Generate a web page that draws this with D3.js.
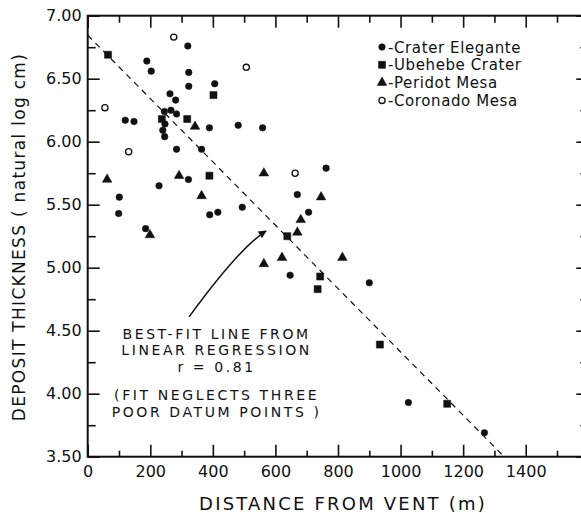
<!DOCTYPE html>
<html>
<head>
<meta charset="utf-8">
<script src="https://cdn.jsdelivr.net/npm/d3@7"></script>
<style>
  body { margin: 0; background: #fff; }
  svg text { font-family: "DejaVu Sans", sans-serif; fill: #111; }
</style>
</head>
<body>
<div id="chart"></div>
<script>
// ----------------------------
// DATA (distance m, ln thickness cm)
// ----------------------------
const craterElegante = [
  [320, 6.76], [189, 6.64], [203, 6.56], [323, 6.55], [323, 6.44], [406, 6.46],
  [263, 6.38], [281, 6.33], [245, 6.24], [266, 6.25], [284, 6.22], [120, 6.17],
  [148, 6.16], [247, 6.14], [240, 6.09], [246, 6.04], [389, 6.11], [481, 6.13],
  [559, 6.11], [284, 5.94], [364, 5.94], [101, 5.56], [99, 5.43], [228, 5.65],
  [322, 5.70], [390, 5.42], [416, 5.44], [494, 5.48], [185, 5.31], [762, 5.79],
  [670, 5.58], [706, 5.44], [647, 4.94], [900, 4.88], [1025, 3.93], [1268, 3.69]
];
const ubehebeCrater = [
  [65, 6.69], [402, 6.37], [237, 6.18], [318, 6.18], [389, 5.73], [638, 5.25],
  [743, 4.93], [735, 4.83], [934, 4.39], [1149, 3.92]
];
const peridotMesa = [
  [343, 6.12], [62, 5.70], [292, 5.73], [364, 5.57], [199, 5.26], [563, 5.75],
  [746, 5.56], [681, 5.38], [670, 5.28], [563, 5.03], [621, 5.08], [814, 5.08]
];
const coronadoMesa = [
  [275, 6.83], [507, 6.59], [55, 6.27], [131, 5.92], [663, 5.75]
];

// best-fit line end points
const fitLine = [[0, 6.845], [1331, 3.5]];

// arrow: tail, control, tip
const arrowPts = [[324, 4.61], [487, 5.164], [570, 5.291]];

const xMajor = [0, 200, 400, 600, 800, 1000, 1200, 1400];
const xMinor = [100, 300, 500, 700, 900, 1100, 1300, 1500];
const yMajor = [3.5, 4.0, 4.5, 5.0, 5.5, 6.0, 6.5, 7.0];
const yMinor = [3.75, 4.25, 4.75, 5.25, 5.75, 6.25, 6.75];

const legendNames = ["Crater Elegante", "Ubehebe Crater", "Peridot Mesa", "Coronado Mesa"];
const noteLines = ["BEST-FIT LINE FROM", "LINEAR REGRESSION", "r = 0.81", "(FIT NEGLECTS THREE", "POOR DATUM POINTS )"];

// ----------------------------
// SETUP
// ----------------------------
const width = 581;
const height = 513;

const svg = d3.select("#chart")
  .append("svg")
  .attr("width", width)
  .attr("height", height);

const x = d3.scaleLinear().domain([0, 1600]).range([87.7, 588.3]);
const y = d3.scaleLinear().domain([3.5, 7]).range([456.7, 15.7]);

// ----------------------------
// AXES (ticks point inward)
// ----------------------------
function styleAxis(sel, fontSize) {
  sel.select(".domain").remove();
  sel.selectAll("line").attr("stroke", "#111").attr("stroke-width", 1.6);
  sel.selectAll("text")
    .attr("font-family", "DejaVu Sans, sans-serif")
    .attr("font-size", fontSize)
    .attr("fill", "#111");
}

svg.append("g")
  .attr("transform", `translate(0,${y(3.5)})`)
  .call(d3.axisBottom(x).tickValues(xMajor).tickSizeInner(-12).tickSizeOuter(0)
    .tickPadding(8.6).tickFormat(d3.format("d")))
  .call(s => styleAxis(s, 16));

svg.append("g")
  .attr("transform", `translate(0,${y(3.5)})`)
  .call(d3.axisBottom(x).tickValues(xMinor).tickSizeInner(-6).tickSizeOuter(0).tickFormat(""))
  .call(s => styleAxis(s, 16));

svg.append("g")
  .attr("transform", `translate(0,${y(7)})`)
  .call(d3.axisTop(x).tickValues(xMajor).tickSizeInner(-12).tickSizeOuter(0).tickFormat(""))
  .call(s => styleAxis(s, 16));

svg.append("g")
  .attr("transform", `translate(0,${y(7)})`)
  .call(d3.axisTop(x).tickValues(xMinor).tickSizeInner(-7).tickSizeOuter(0).tickFormat(""))
  .call(s => styleAxis(s, 16));

svg.append("g")
  .attr("transform", `translate(${x(0)},0)`)
  .call(d3.axisLeft(y).tickValues(yMajor).tickSizeInner(-12).tickSizeOuter(0)
    .tickPadding(6).tickFormat(d3.format(".2f")))
  .call(s => styleAxis(s, 16));

svg.append("g")
  .attr("transform", `translate(${x(0)},0)`)
  .call(d3.axisLeft(y).tickValues(yMinor).tickSizeInner(-8).tickSizeOuter(0).tickFormat(""))
  .call(s => styleAxis(s, 16));

svg.append("g")
  .attr("transform", `translate(${x(1600)},0)`)
  .call(d3.axisRight(y).tickValues(yMajor).tickSizeInner(-12).tickSizeOuter(0).tickFormat(""))
  .call(s => styleAxis(s, 16));

svg.append("g")
  .attr("transform", `translate(${x(1600)},0)`)
  .call(d3.axisRight(y).tickValues(yMinor).tickSizeInner(-8).tickSizeOuter(0).tickFormat(""))
  .call(s => styleAxis(s, 16));

// frame
svg.append("rect")
  .attr("x", x(0))
  .attr("y", y(7))
  .attr("width", x(1600) - x(0))
  .attr("height", y(3.5) - y(7))
  .attr("fill", "none")
  .attr("stroke", "#111")
  .attr("stroke-width", 2);

// ----------------------------
// AXIS TITLES
// ----------------------------
svg.append("text")
  .attr("x", 343)
  .attr("y", 510)
  .attr("text-anchor", "middle")
  .attr("font-size", "18px")
  .attr("letter-spacing", "2.2px")
  .text("DISTANCE FROM VENT (m)");

svg.append("text")
  .attr("transform", "translate(25,237) rotate(-90)")
  .attr("text-anchor", "middle")
  .attr("font-size", "17px")
  .attr("letter-spacing", "1.3px")
  .text("DEPOSIT THICKNESS ( natural log cm)");

// ----------------------------
// FIT LINE
// ----------------------------
svg.append("path")
  .datum(fitLine)
  .attr("fill", "none")
  .attr("stroke", "#111")
  .attr("stroke-width", 1.2)
  .attr("stroke-dasharray", "6,5")
  .attr("d", d3.line().x(d => x(d[0])).y(d => y(d[1])));

// ----------------------------
// POINTS
// ----------------------------
const sym = {
  circle: d3.symbol().type(d3.symbolCircle).size(34),
  square: d3.symbol().type(d3.symbolSquare).size(50),
  triangle: d3.symbol().type(d3.symbolTriangle).size(40),
  open: d3.symbol().type(d3.symbolCircle).size(30)
};

const series = [
  { name: legendNames[0], data: craterElegante, shape: "circle", fill: "#111" },
  { name: legendNames[1], data: ubehebeCrater, shape: "square", fill: "#111" },
  { name: legendNames[2], data: peridotMesa, shape: "triangle", fill: "#111" },
  { name: legendNames[3], data: coronadoMesa, shape: "open", fill: "#fff" }
];

series.forEach(s => {
  svg.append("g")
    .selectAll("path")
    .data(s.data)
    .join("path")
    .attr("transform", d => `translate(${x(d[0])},${y(d[1])})`)
    .attr("d", sym[s.shape]())
    .attr("fill", s.fill)
    .attr("stroke", "#111")
    .attr("stroke-width", s.shape === "open" ? 1.3 : 0.5);
});

// ----------------------------
// LEGEND
// ----------------------------
const legend = svg.append("g").attr("transform", "translate(382,47)");

const legendItems = legend.selectAll(".legend-item")
  .data(series)
  .join("g")
  .attr("class", "legend-item")
  .attr("transform", (_, i) => `translate(0,${i * 17.8})`);

legendItems.append("path")
  .attr("d", d => sym[d.shape]())
  .attr("fill", d => d.fill)
  .attr("stroke", "#111")
  .attr("stroke-width", d => d.shape === "open" ? 1.3 : 0.5);

legendItems.append("text")
  .attr("x", 6)
  .attr("y", 5.5)
  .attr("font-size", "15px")
  .attr("letter-spacing", "0.6px")
  .text(d => "-" + d.name);

// ----------------------------
// ANNOTATION
// ----------------------------
svg.append("defs").append("marker")
  .attr("id", "head")
  .attr("viewBox", "0 0 10 10")
  .attr("refX", 9)
  .attr("refY", 5)
  .attr("markerWidth", 10)
  .attr("markerHeight", 8)
  .attr("markerUnits", "userSpaceOnUse")
  .attr("orient", "auto")
  .append("path")
  .attr("d", "M0,0L10,5L0,10Z")
  .attr("fill", "#111");

const [a0, a1, a2] = arrowPts;
svg.append("path")
  .attr("d", `M${x(a0[0])},${y(a0[1])}Q${x(a1[0])},${y(a1[1])} ${x(a2[0])},${y(a2[1])}`)
  .attr("fill", "none")
  .attr("stroke", "#111")
  .attr("stroke-width", 1.5)
  .attr("marker-end", "url(#head)");

// line baselines below the first one (px)
const noteOffsets = [0, 16.5, 33, 61.5, 78];
svg.append("g")
  .selectAll("text")
  .data(noteLines)
  .join("text")
  .attr("x", x(412))
  .attr("y", (_, i) => y(4.435) + noteOffsets[i])
  .attr("text-anchor", "middle")
  .attr("font-size", "14px")
  .attr("letter-spacing", "2.6px")
  .text(d => d);
</script>
</body>
</html>
